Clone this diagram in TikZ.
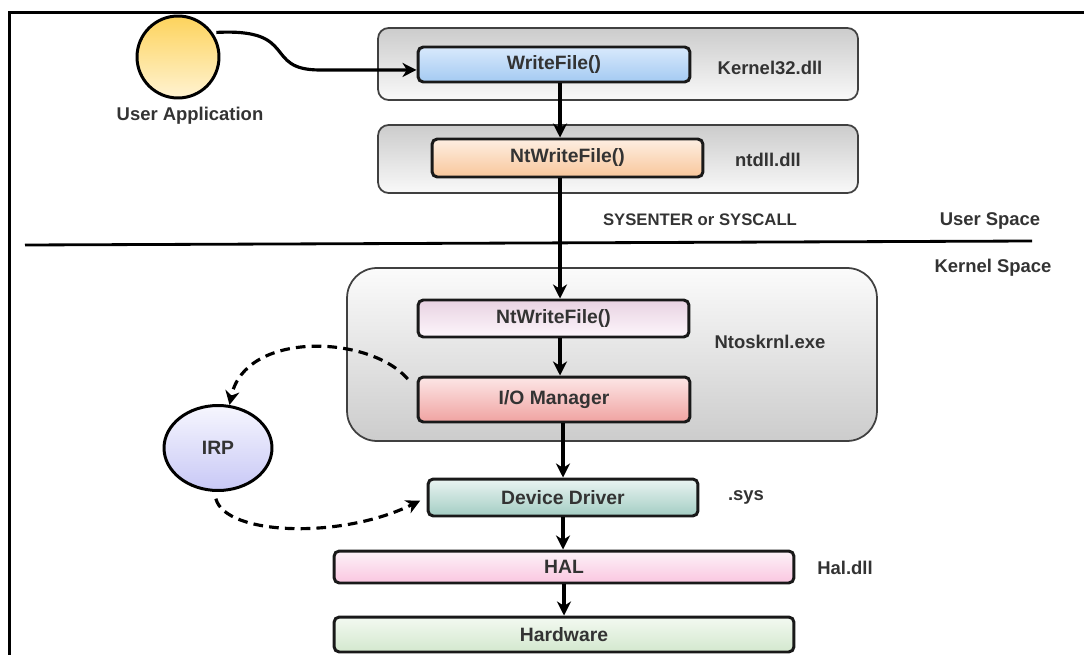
\documentclass[tikz,border=0pt]{standalone}
\usepackage{fontspec}
\setmainfont{Liberation Sans}
\usepackage{tikz}
\usetikzlibrary{arrows.meta,shapes.geometric}

\definecolor{appTop}{HTML}{FDD35C}
\definecolor{appBot}{HTML}{FFF3D2}
\definecolor{wfTop}{HTML}{D8E9FC}
\definecolor{wfBot}{HTML}{A4CAF2}
\definecolor{ntuTop}{HTML}{FDEEE2}
\definecolor{ntuBot}{HTML}{F9C79B}
\definecolor{ntkTop}{HTML}{E8D2E2}
\definecolor{ntkBot}{HTML}{FDF6FB}
\definecolor{ioTop}{HTML}{FCE6E6}
\definecolor{ioBot}{HTML}{F0A3A1}
\definecolor{ddTop}{HTML}{EAF4F2}
\definecolor{ddBot}{HTML}{A3CDC3}
\definecolor{halTop}{HTML}{FDF2F8}
\definecolor{halBot}{HTML}{FAC6E0}
\definecolor{hwTop}{HTML}{F3F9F1}
\definecolor{hwBot}{HTML}{D3E8CE}
\definecolor{irpTop}{HTML}{F6F6FE}
\definecolor{irpBot}{HTML}{C8C8F6}

\begin{document}
\begin{tikzpicture}[
  x=0.02cm, y=-0.02cm,
  >={Stealth[length=8pt,width=8pt,inset=2.5pt]},
  layer/.style={draw=black!75, line width=1pt, rounded corners=6pt},
  func/.style={draw=black!90, line width=1.7pt, rounded corners=3pt, inner sep=0pt,
    font=\fontsize{11}{13}\selectfont\bfseries, text=black!80},
  tag/.style={font=\fontsize{10.5}{12}\selectfont\bfseries, text=black!80},
  flow/.style={->, line width=1.8pt},
  irpflow/.style={->, line width=1.8pt, dash pattern=on 5.5pt off 3.5pt},
]
  % coordinates are pixels of the 1084x655 sheet, y pointing down
  \useasboundingbox (0,0) rectangle (1084,655);
  \draw[line width=1.8pt] (9.5,655) -- (9.5,12.5) -- (1084,12.5);

  % user / kernel border
  \coordinate (divl) at (25,245);
  \coordinate (divr) at (1032,241);
  \draw[line width=1.6pt] (divl) -- (divr);

  \node[layer, top color=gray!40, bottom color=gray!5, minimum width=9.6cm, minimum height=1.44cm] (k32box) at (618,64) {};
  \node[layer, top color=gray!40, bottom color=gray!5, minimum width=9.6cm, minimum height=1.36cm] (ntdllbox) at (618,159) {};
  \node[layer, rounded corners=17pt, top color=gray!3, bottom color=gray!40, minimum width=10.6cm, minimum height=3.46cm] (ntosbox) at (612,354.5) {};

  \node[func, top color=wfTop, bottom color=wfBot, minimum width=5.44cm, minimum height=0.7cm] (wf) at (554,64.5) {WriteFile()};
  \node[func, top color=ntuTop, bottom color=ntuBot, minimum width=5.42cm, minimum height=0.76cm] (ntu) at (567.5,158) {NtWriteFile()};
  \node[func, top color=ntkTop, bottom color=ntkBot, minimum width=5.42cm, minimum height=0.74cm] (ntk) at (553.5,318.5) {NtWriteFile()};
  \node[func, top color=ioTop, bottom color=ioBot, minimum width=5.44cm, minimum height=0.9cm] (io) at (554,399.5) {I/O Manager};
  \node[func, top color=ddTop, bottom color=ddBot, minimum width=5.4cm, minimum height=0.74cm] (dd) at (563,497.5) {Device Driver};
  \node[func, top color=halTop, bottom color=halBot, minimum width=9.2cm, minimum height=0.64cm] (hal) at (564,567) {HAL};
  \node[func, top color=hwTop, bottom color=hwBot, minimum width=9.2cm, minimum height=0.7cm] (hw) at (564,634.5) {Hardware};

  \node[circle, draw, line width=1.7pt, top color=appTop, bottom color=appBot, minimum size=1.64cm, inner sep=0pt] (ua) at (178,57) {};
  \node[tag] (ualbl) at (190,116) {User Application};
  \node[ellipse, draw, line width=1.7pt, top color=irpTop, bottom color=irpBot, minimum width=2.16cm, minimum height=1.7cm, inner sep=0pt,
    font=\fontsize{11}{13}\selectfont\bfseries, text=black!80] (irp) at (218,448) {IRP};

  \node[tag] (k32lbl) at (770,68) {Kernel32.dll};
  \node[tag] (ntdlllbl) at (768,160) {ntdll.dll};
  \node[tag, font=\fontsize{9.5}{11}\selectfont\bfseries] (syslbl) at (700,220) {SYSENTER or SYSCALL};
  \node[tag] (uslbl) at (990,221) {User Space};
  \node[tag] (kslbl) at (993,268) {Kernel Space};
  \node[tag] (ntoslbl) at (770,342) {Ntoskrnl.exe};
  \node[tag] (sysext) at (746,497) {.sys};
  \node[tag] (hallbl) at (845,568) {Hal.dll};

  % call path
  \coordinate (spine) at (560,0);
  \draw[flow, shorten <=2pt] (ua.35) .. controls (300,28) and (262,70) .. (320,70) -- ([yshift=-3.1pt]wf.west);
  \draw[flow] (wf.south -| spine) -- (ntu.north -| spine);
  \draw[flow] (ntu.south -| spine) -- (ntk.north -| spine);
  \draw[flow] (ntk.south -| spine) -- (io.north -| spine);
  \draw[flow] (io.south -| dd.north) -- (dd.north);
  \draw[flow] (dd.south) -- (dd.south |- hal.north);
  \draw[flow] (hal.south) -- (hw.north);

  % IRP round trip
  \draw[irpflow] ([xshift=-5pt,yshift=-2pt]io.north west) .. controls (370,335) and (245,330) .. (irp.75);
  \draw[irpflow, shorten <=4pt, shorten >=4pt] (irp.265) .. controls (225,535) and (340,540) .. (dd.west);
\end{tikzpicture}
\end{document}
